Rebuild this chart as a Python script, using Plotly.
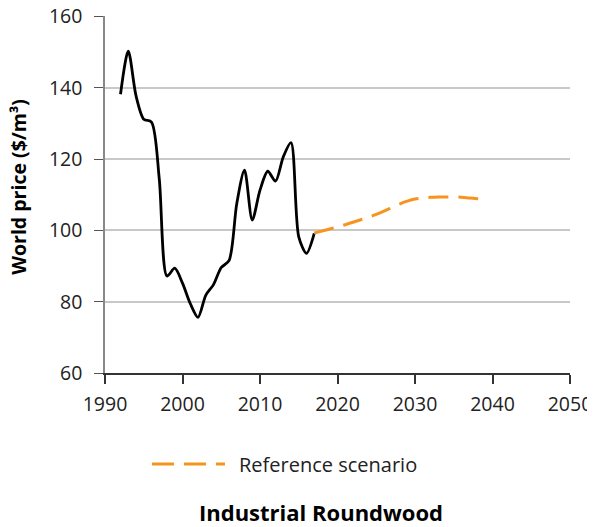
import plotly.graph_objects as go

# ---------------------------------------
# DATA
# ---------------------------------------
hist_years = list(range(1992, 2018))
hist_price = [138.2, 150.3, 137.8, 131.2, 130.4, 114.5, 87.2, 89.4, 85.2, 79.5,
              75.6, 81.8, 84.8, 89.6, 91.5, 107.5, 116.9, 102.9, 111.3, 116.6,
              113.8, 120.6, 124.6, 98.2, 93.6, 99.2]

ref_years = list(range(2017, 2040))
ref_price = [99.3, 99.8, 100.4, 101.0, 101.6, 102.3, 103.0, 103.7, 104.5, 105.4,
             106.4, 107.4, 108.2, 108.8, 109.1, 109.3, 109.4, 109.4, 109.4, 109.3,
             109.1, 108.9, 108.7]

x_ticks = [1990, 2000, 2010, 2020, 2030, 2040, 2050]
y_ticks = [60, 80, 100, 120, 140, 160]

ORANGE = "#F7941D"
FONT = "Open Sans"

fig = go.Figure()

fig.add_trace(go.Scatter(
    x=hist_years, y=hist_price,
    mode="lines",
    line=dict(color="black", width=2.8, shape="spline", smoothing=0.8),
    showlegend=False,
    name="Historical"
))

fig.add_trace(go.Scatter(
    x=ref_years, y=ref_price,
    mode="lines",
    line=dict(color=ORANGE, width=3, dash="20px,10px", shape="spline"),
    showlegend=False,
    name="Reference scenario"
))

# legend sample + label drawn by hand (longer dash sample than plotly's)
fig.add_shape(type="line", xref="paper", yref="paper",
              x0=0.101, x1=0.258, y0=-0.255, y1=-0.255,
              line=dict(color=ORANGE, width=3, dash="22px,10px"))
fig.add_annotation(text="Reference scenario", xref="paper", yref="paper",
                   x=0.284, y=-0.255, xanchor="left", yanchor="middle",
                   showarrow=False, font=dict(size=20, color="#222"))

# bottom title
fig.add_annotation(text="<b>Industrial Roundwood</b>", xref="paper", yref="paper",
                   x=0.4645, y=-0.389, xanchor="center", yanchor="middle",
                   showarrow=False, font=dict(size=22, color="black"))

# y-axis title
fig.add_annotation(text="<b>World price ($/m³)</b>", xref="paper", yref="paper",
                   x=-0.186, y=0.52, xanchor="center", yanchor="middle",
                   textangle=-90, showarrow=False,
                   font=dict(size=19.5, color="black"))

# page body adds an 8px margin, so the figure is 8px smaller each way
fig.update_layout(
    width=587, height=519,
    margin=dict(l=97, r=25, t=8, b=154, autoexpand=False),
    plot_bgcolor="white",
    paper_bgcolor="white",
    font=dict(family=FONT, size=20, color="#222"),
    xaxis=dict(
        range=[1990, 2050],
        tickvals=x_ticks,
        showgrid=False,
        zeroline=False,
        automargin=False,
        showline=True, linecolor="#333", linewidth=1.5,
        ticks="outside", ticklen=9, tickcolor="#333", tickwidth=1.5,
        ticklabelstandoff=4,
        ticklabeloverflow="allow",
        tickfont=dict(size=19.5),
    ),
    yaxis=dict(
        range=[60, 160.15],
        tickvals=y_ticks,
        showgrid=True, gridcolor="#c8c8c8", gridwidth=1.5,
        zeroline=False,
        automargin=False,
        showline=True, linecolor="#888", linewidth=1.5,
        ticks="outside", ticklen=9, tickcolor="#555", tickwidth=1.2,
        ticklabelstandoff=8,
        ticklabeloverflow="allow",
        tickfont=dict(size=19.5),
    ),
)

fig.write_html("out.html")
